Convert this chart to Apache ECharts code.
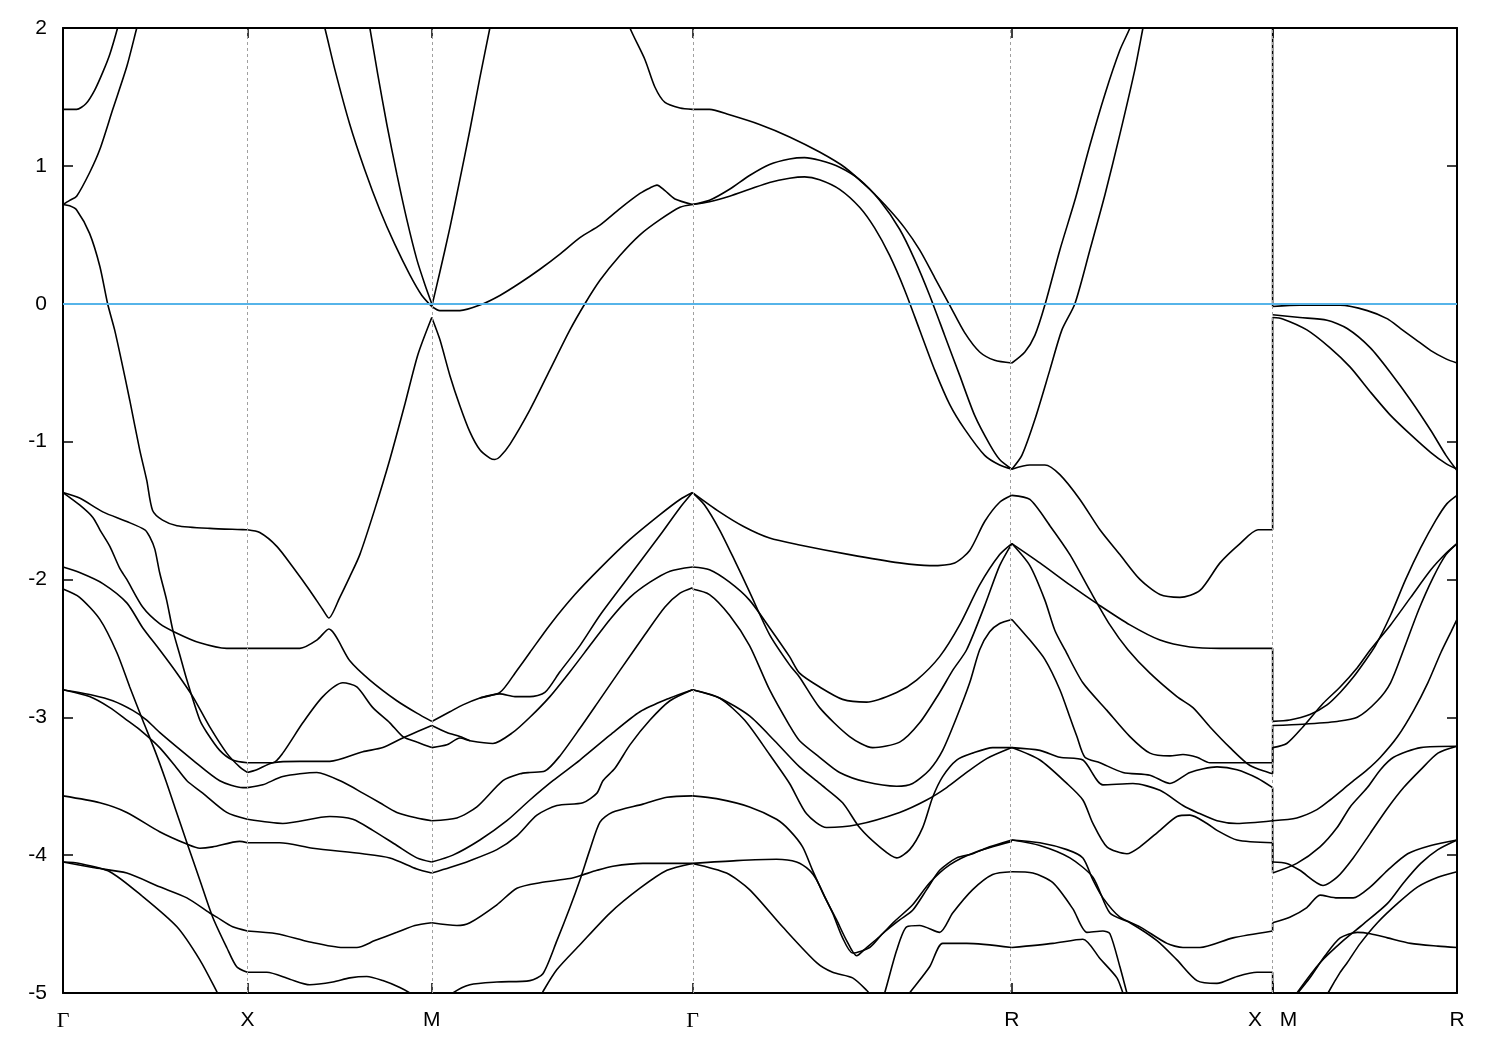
<!DOCTYPE html>
<html><head><meta charset="utf-8">
<script src="https://cdn.jsdelivr.net/npm/echarts/dist/echarts.min.js"></script>
<style>html,body{margin:0;padding:0;background:#fff}#c{width:1500px;height:1050px}</style>
</head><body><div id="c"></div>
<script>
// ---- axes data ----
const kPoints = [0, 0.5, 1.0, 1.7071, 2.5731, 3.2802, 3.7802];
const kLabels = ['Γ', 'X', 'M', 'Γ', 'R', 'X   M', 'R'];
const energyMin = -5, energyMax = 2, energyStep = 1;
const fermiLevel = 0;

// ---- Γ → X ----
const gx_t1 = [[0,1.41],[0.037,1.41],[0.062,1.45],[0.086,1.55],[0.108,1.68],[0.127,1.81],[0.148,2.0],[0.157,2.1]];
const gx_t2 = [[0,0.72],[0.018,0.75],[0.037,0.78],[0.072,0.95],[0.100,1.12],[0.135,1.41],[0.173,1.72],[0.200,2.0],[0.208,2.08]];
const gx_t3 = [[0,0.72],[0.018,0.71],[0.037,0.68],[0.072,0.51],[0.100,0.27],[0.121,0.00],[0.140,-0.19],[0.159,-0.42],[0.181,-0.70],[0.208,-1.06],[0.227,-1.28],[0.243,-1.50],[0.270,-1.57],[0.309,-1.61],[0.398,-1.63],[0.5,-1.64]];
const gx_a = [[0,-1.37],[0.045,-1.41],[0.108,-1.51],[0.173,-1.58],[0.222,-1.64],[0.235,-1.69],[0.249,-1.78],[0.262,-1.95],[0.281,-2.15],[0.298,-2.37],[0.317,-2.55],[0.336,-2.73],[0.371,-3.02],[0.390,-3.11],[0.425,-3.24],[0.460,-3.31],[0.5,-3.33]];
const gx_b = [[0,-1.37],[0.045,-1.46],[0.081,-1.55],[0.100,-1.64],[0.127,-1.76],[0.154,-1.92],[0.173,-2.00],[0.216,-2.20],[0.262,-2.32],[0.309,-2.39],[0.371,-2.46],[0.444,-2.50],[0.5,-2.50]];
const gx_c = [[0,-1.91],[0.045,-1.95],[0.108,-2.03],[0.173,-2.17],[0.216,-2.35],[0.262,-2.51],[0.309,-2.68],[0.352,-2.85],[0.398,-3.07],[0.444,-3.26],[0.479,-3.36],[0.5,-3.40]];
const gx_d = [[0,-2.07],[0.045,-2.13],[0.100,-2.29],[0.146,-2.53],[0.181,-2.78],[0.216,-3.02],[0.249,-3.24],[0.279,-3.46],[0.303,-3.65],[0.336,-3.91],[0.371,-4.18],[0.406,-4.45],[0.444,-4.67],[0.471,-4.81],[0.5,-4.85]];
const gx_e = [[0,-2.80],[0.072,-2.85],[0.127,-2.93],[0.173,-3.02],[0.208,-3.09],[0.262,-3.22],[0.303,-3.35],[0.336,-3.46],[0.379,-3.55],[0.444,-3.69],[0.5,-3.74]];
const gx_f = [[0,-2.80],[0.081,-2.84],[0.135,-2.88],[0.189,-2.95],[0.227,-3.02],[0.262,-3.11],[0.352,-3.31],[0.425,-3.46],[0.488,-3.51],[0.5,-3.51]];
const gx_g = [[0,-3.57],[0.100,-3.62],[0.173,-3.69],[0.262,-3.83],[0.336,-3.92],[0.371,-3.95],[0.406,-3.94],[0.479,-3.90],[0.5,-3.91]];
const gx_h = [[0,-4.05],[0.081,-4.09],[0.173,-4.13],[0.262,-4.23],[0.336,-4.31],[0.398,-4.42],[0.417,-4.45],[0.460,-4.52],[0.5,-4.55]];
const gx_i = [[0,-4.05],[0.045,-4.06],[0.127,-4.12],[0.216,-4.30],[0.309,-4.52],[0.371,-4.76],[0.417,-4.99],[0.428,-5.05]];

// ---- X → M ----
const xm_t3 = [[0.5,-1.64],[0.5336,-1.66],[0.5798,-1.76],[0.6232,-1.91],[0.6693,-2.08],[0.7046,-2.22],[0.7208,-2.28],[0.7507,-2.13],[0.7778,-1.98],[0.8049,-1.82],[0.8456,-1.49],[0.8863,-1.13],[0.9270,-0.73],[0.9623,-0.37],[1.0,-0.10]];
const xm_t4 = [[0.7018,2.07],[0.7100,2.0],[0.7371,1.70],[0.7778,1.30],[0.8185,0.97],[0.8592,0.68],[0.8999,0.43],[0.9406,0.21],[0.9732,0.06],[1.0,-0.02]];
const xm_t5 = [[0.8267,2.07],[0.8321,2.0],[0.8538,1.66],[0.8782,1.30],[0.9053,0.94],[0.9324,0.61],[0.9596,0.32],[0.9813,0.14],[1.0,0.0]];
const xm_a = [[0.5,-3.33],[0.5689,-3.33],[0.5960,-3.26],[0.6503,-3.04],[0.7046,-2.85],[0.7588,-2.75],[0.7968,-2.78],[0.8402,-2.93],[0.8863,-3.04],[0.9216,-3.14],[0.9596,-3.18],[1.0,-3.22]];
const xm_b = [[0.5,-2.50],[0.6422,-2.50],[0.6883,-2.44],[0.7208,-2.36],[0.7778,-2.59],[0.8321,-2.73],[0.9053,-2.88],[0.9596,-2.97],[1.0,-3.03]];
const xm_c = [[0.5,-3.40],[0.5255,-3.38],[0.5689,-3.33],[0.6422,-3.32],[0.7236,-3.32],[0.8131,-3.25],[0.8673,-3.22],[0.9216,-3.15],[1.0,-3.06]];
const xm_f = [[0.5,-3.51],[0.5418,-3.49],[0.5960,-3.43],[0.6883,-3.40],[0.7588,-3.47],[0.8131,-3.55],[0.8592,-3.62],[0.9053,-3.69],[0.9596,-3.73],[1.0,-3.75]];
const xm_e = [[0.5,-3.74],[0.5960,-3.77],[0.7236,-3.72],[0.7860,-3.74],[0.8402,-3.82],[0.9053,-3.93],[0.9596,-4.02],[1.0,-4.05]];
const xm_g = [[0.5,-3.91],[0.5879,-3.91],[0.6774,-3.95],[0.8131,-3.99],[0.8863,-4.02],[0.9596,-4.10],[1.0,-4.13]];
const xm_h = [[0.5,-4.55],[0.5798,-4.57],[0.6693,-4.63],[0.7588,-4.67],[0.7968,-4.67],[0.8456,-4.62],[0.9053,-4.56],[0.9541,-4.51],[1.0,-4.49]];
const xm_d = [[0.5,-4.85],[0.5526,-4.85],[0.6150,-4.90],[0.6693,-4.94],[0.7317,-4.92],[0.7778,-4.89],[0.8239,-4.88],[0.8673,-4.91],[0.9135,-4.96],[0.9406,-5.00],[0.9541,-5.03]];

// ---- M → Γ ----
const mg_t6 = [[1.0,-0.02],[1.0220,0.23],[1.0491,0.55],[1.0762,0.90],[1.1034,1.26],[1.1305,1.64],[1.1576,2.0],[1.1630,2.07]];
const mg_top = [[1.5320,2.07],[1.5374,2.0],[1.5782,1.77],[1.6053,1.57],[1.6324,1.46],[1.6731,1.42],[1.7071,1.41]];
const mg_t4 = [[1.0,-0.02],[1.0220,-0.05],[1.0762,-0.05],[1.1305,-0.01],[1.1848,0.06],[1.2390,0.15],[1.2933,0.25],[1.3476,0.36],[1.4018,0.48],[1.4561,0.57],[1.5103,0.69],[1.5646,0.80],[1.5917,0.84],[1.6107,0.86],[1.6324,0.82],[1.6595,0.76],[1.7071,0.72]];
const mg_t3 = [[1.0,-0.10],[1.0220,-0.26],[1.0491,-0.52],[1.0762,-0.74],[1.1034,-0.93],[1.1305,-1.06],[1.1576,-1.12],[1.1712,-1.13],[1.1848,-1.11],[1.2119,-1.02],[1.2661,-0.77],[1.3204,-0.48],[1.3747,-0.19],[1.4153,0.00],[1.4561,0.17],[1.5103,0.35],[1.5646,0.50],[1.6189,0.61],[1.6731,0.70],[1.7071,0.72]];
const mg_a = [[1.0,-3.03],[1.0491,-2.96],[1.0844,-2.91],[1.1305,-2.86],[1.1848,-2.82],[1.2309,-2.66],[1.2661,-2.53],[1.3204,-2.33],[1.3882,-2.11],[1.4561,-1.92],[1.5374,-1.71],[1.6189,-1.53],[1.6731,-1.42],[1.7071,-1.37]];
const mg_b = [[1.1305,-2.86],[1.1848,-2.83],[1.2255,-2.85],[1.2661,-2.85],[1.3068,-2.82],[1.3476,-2.67],[1.4018,-2.48],[1.4561,-2.26],[1.5374,-1.97],[1.6189,-1.68],[1.6731,-1.48],[1.7071,-1.37]];
const mg_c = [[1.0,-3.06],[1.0410,-3.11],[1.0762,-3.14],[1.1034,-3.17]];
const mg_323 = [[1.0,-3.22],[1.0410,-3.20],[1.0762,-3.15],[1.1034,-3.17],[1.1658,-3.19],[1.2200,-3.11],[1.2661,-3.00],[1.3204,-2.85],[1.3747,-2.67],[1.4289,-2.48],[1.4832,-2.29],[1.5374,-2.13],[1.5917,-2.02],[1.6460,-1.94],[1.7071,-1.91]];
const mg_375 = [[1.0,-3.75],[1.0681,-3.73],[1.1224,-3.65],[1.1929,-3.46],[1.2390,-3.41],[1.2661,-3.40],[1.3068,-3.39],[1.3476,-3.28],[1.4018,-3.08],[1.4561,-2.87],[1.5103,-2.66],[1.5782,-2.40],[1.6324,-2.20],[1.6731,-2.10],[1.7071,-2.06]];
const mg_405 = [[1.0,-4.05],[1.0573,-4.00],[1.1305,-3.89],[1.2037,-3.75],[1.2661,-3.60],[1.3285,-3.46],[1.4018,-3.31],[1.4832,-3.13],[1.5646,-2.96],[1.6460,-2.86],[1.7071,-2.80]];
const mg_413 = [[1.0,-4.13],[1.0491,-4.09],[1.1034,-4.04],[1.1766,-3.96],[1.2309,-3.86],[1.2851,-3.71],[1.3394,-3.64],[1.4099,-3.62],[1.4479,-3.55],[1.4642,-3.46],[1.4967,-3.37],[1.5374,-3.20],[1.5917,-3.02],[1.6460,-2.88],[1.7071,-2.80]];
const mg_449 = [[1.0,-4.49],[1.0681,-4.51],[1.1034,-4.49],[1.1766,-4.36],[1.2309,-4.24],[1.2933,-4.20],[1.3747,-4.17],[1.4018,-4.15],[1.4479,-4.11],[1.4913,-4.08],[1.5727,-4.06],[1.7071,-4.06]];
const mg_bot1 = [[1.0220,-5.09],[1.0573,-5.00],[1.1034,-4.94],[1.1766,-4.92],[1.2661,-4.91],[1.3014,-4.86],[1.3394,-4.62],[1.3747,-4.38],[1.4018,-4.18],[1.4289,-3.96],[1.4561,-3.76],[1.4886,-3.69],[1.5727,-3.63],[1.6378,-3.58],[1.7071,-3.57]];
const mg_bot2 = [[1.2906,-5.05],[1.3014,-4.99],[1.3394,-4.83],[1.4018,-4.65],[1.4832,-4.42],[1.5646,-4.24],[1.6378,-4.11],[1.7071,-4.06]];

// ---- Γ → R ----
const gr_t7 = [[1.7071,1.41],[1.7532,1.41],[1.8075,1.37],[1.8889,1.30],[1.9703,1.21],[2.0517,1.10],[2.1195,0.99],[2.1874,0.83],[2.2416,0.68],[2.2823,0.55],[2.3230,0.39],[2.3637,0.19],[2.4044,-0.01],[2.4451,-0.21],[2.4858,-0.35],[2.5265,-0.41],[2.5731,-0.43]];
const gr_t8 = [[1.7071,0.72],[1.7532,0.75],[1.8075,0.83],[1.8617,0.93],[1.9160,1.01],[1.9703,1.05],[2.0110,1.06],[2.0517,1.04],[2.1060,0.99],[2.1602,0.90],[2.2145,0.75],[2.2688,0.54],[2.3095,0.32],[2.3502,0.06],[2.3909,-0.23],[2.4316,-0.52],[2.4722,-0.81],[2.5129,-1.02],[2.5400,-1.13],[2.5731,-1.20]];
const gr_t9 = [[1.7071,0.72],[1.7532,0.74],[1.8075,0.78],[1.8617,0.83],[1.9160,0.88],[1.9703,0.91],[2.0110,0.92],[2.0517,0.90],[2.1060,0.83],[2.1602,0.70],[2.2009,0.55],[2.2416,0.35],[2.2823,0.10],[2.3230,-0.19],[2.3637,-0.48],[2.4044,-0.73],[2.4451,-0.91],[2.4994,-1.10],[2.5400,-1.17],[2.5731,-1.20]];
const gr_flat = [[1.7071,-1.37],[1.7803,-1.51],[1.8482,-1.62],[1.9160,-1.70],[1.9974,-1.75],[2.1331,-1.82],[2.2688,-1.88],[2.3502,-1.90],[2.4180,-1.88],[2.4587,-1.79],[2.4994,-1.58],[2.5400,-1.44],[2.5731,-1.39]];
const gr_288 = [[1.7071,-1.91],[1.7532,-1.93],[1.8075,-2.02],[1.8617,-2.15],[1.9160,-2.35],[1.9703,-2.56],[1.9974,-2.68],[2.0517,-2.78],[2.1141,-2.87],[2.1792,-2.89],[2.2607,-2.82],[2.3148,-2.73],[2.3773,-2.56],[2.4316,-2.33],[2.4858,-2.04],[2.5400,-1.82],[2.5731,-1.74]];
const gr_323 = [[1.7071,-1.37],[1.7397,-1.46],[1.7803,-1.64],[1.8210,-1.86],[1.8617,-2.09],[1.9160,-2.40],[1.9703,-2.62],[1.9974,-2.71],[2.0517,-2.93],[2.1331,-3.14],[2.1955,-3.22],[2.2688,-3.18],[2.3230,-3.04],[2.3773,-2.82],[2.4126,-2.66],[2.4505,-2.51],[2.4994,-2.19],[2.5400,-1.90],[2.5731,-1.74]];
const gr_350 = [[1.7071,-2.07],[1.7532,-2.11],[1.8075,-2.26],[1.8617,-2.48],[1.9160,-2.80],[1.9703,-3.06],[1.9974,-3.17],[2.0517,-3.29],[2.1060,-3.40],[2.1792,-3.47],[2.2607,-3.50],[2.3040,-3.48],[2.3502,-3.38],[2.3854,-3.24],[2.4234,-3.00],[2.4587,-2.75],[2.4858,-2.51],[2.5129,-2.38],[2.5400,-2.32],[2.5731,-2.29]];
const gr_402 = [[1.7071,-2.80],[1.7803,-2.86],[1.8617,-2.99],[1.9296,-3.17],[1.9974,-3.36],[2.0517,-3.48],[2.1141,-3.62],[2.1602,-3.80],[2.2145,-3.94],[2.2607,-4.02],[2.2959,-3.96],[2.3312,-3.80],[2.3583,-3.58],[2.3854,-3.43],[2.4234,-3.31],[2.4668,-3.26],[2.5210,-3.22],[2.5731,-3.22]];
const gr_378 = [[1.7071,-2.80],[1.7803,-2.86],[1.8482,-3.02],[1.9160,-3.27],[1.9703,-3.48],[2.0164,-3.70],[2.0707,-3.80],[2.1521,-3.78],[2.2688,-3.69],[2.3420,-3.60],[2.3963,-3.51],[2.4505,-3.40],[2.5048,-3.30],[2.5731,-3.22]];
const gr_dip = [[1.7071,-3.57],[1.7722,-3.59],[1.8617,-3.65],[1.9350,-3.74],[1.9703,-3.82],[2.0056,-3.94],[2.0327,-4.11],[2.0598,-4.27],[2.0870,-4.42],[2.1141,-4.60],[2.1412,-4.71],[2.1874,-4.67],[2.2226,-4.57],[2.2688,-4.47],[2.3040,-4.40],[2.3420,-4.25],[2.3773,-4.11],[2.4234,-4.02],[2.4668,-3.99],[2.5129,-3.94],[2.5731,-3.89]];
const gr_405a = [[1.7071,-4.06],[1.8265,-4.04],[1.9350,-4.03],[1.9893,-4.05],[2.0246,-4.11],[2.0436,-4.18],[2.0707,-4.33],[2.0978,-4.47],[2.1250,-4.62],[2.1521,-4.73],[2.1792,-4.67],[2.2145,-4.59],[2.2552,-4.48],[2.3040,-4.36],[2.3502,-4.20],[2.4044,-4.07],[2.4722,-3.98],[2.5731,-3.90]];
const gr_405b = [[1.7071,-4.06],[1.7993,-4.13],[1.8617,-4.25],[1.9513,-4.52],[2.0436,-4.78],[2.0870,-4.85],[2.1412,-4.89],[2.1792,-4.98],[2.2009,-5.05]];
const gr_412 = [[2.2199,-5.05],[2.2281,-5.00],[2.2607,-4.69],[2.2878,-4.52],[2.3230,-4.51],[2.3773,-4.56],[2.4126,-4.42],[2.4668,-4.25],[2.5210,-4.14],[2.5731,-4.12]];
const gr_468 = [[2.2823,-5.05],[2.2959,-5.00],[2.3502,-4.81],[2.3854,-4.64],[2.4505,-4.64],[2.5731,-4.67]];

// ---- R → X ----
const rx_U = [[2.5731,-0.43],[2.6084,-0.35],[2.6355,-0.23],[2.6626,-0.01],[2.7033,0.39],[2.7440,0.75],[2.7847,1.15],[2.8255,1.52],[2.8661,1.84],[2.8933,2.0],[2.9014,2.07]];
const rx_V = [[2.5731,-1.20],[2.6002,-1.10],[2.6355,-0.84],[2.6762,-0.48],[2.7088,-0.19],[2.7440,0.0],[2.7847,0.39],[2.8255,0.79],[2.8661,1.23],[2.9068,1.70],[2.9286,2.0],[2.9340,2.07]];
const rx_121 = [[2.5731,-1.20],[2.6219,-1.17],[2.6626,-1.17],[2.7033,-1.24],[2.7576,-1.42],[2.8119,-1.64],[2.8661,-1.82],[2.9204,-2.00],[2.9747,-2.11],[3.0289,-2.13],[3.0832,-2.08],[3.1375,-1.88],[3.1918,-1.74],[3.2406,-1.64],[3.2802,-1.64]];
const rx_140 = [[2.5731,-1.39],[2.6219,-1.42],[2.6762,-1.61],[2.7305,-1.82],[2.7847,-2.08],[2.8390,-2.33],[2.8878,-2.51],[2.9475,-2.68],[3.0208,-2.85],[3.0642,-2.93],[3.1104,-3.07],[3.1646,-3.22],[3.2189,-3.35],[3.2802,-3.41]];
const rx_174a = [[2.5731,-1.74],[2.6491,-1.88],[2.7305,-2.04],[2.8119,-2.19],[2.8933,-2.33],[2.9747,-2.44],[3.0561,-2.49],[3.1375,-2.50],[3.2802,-2.50]];
const rx_174b = [[2.5731,-1.74],[2.6219,-1.90],[2.6626,-2.15],[2.6898,-2.37],[2.7169,-2.51],[2.7657,-2.75],[2.8309,-2.95],[2.8933,-3.14],[2.9475,-3.26],[3.0018,-3.28],[3.0371,-3.27],[3.0751,-3.29],[3.1104,-3.33],[3.1836,-3.33],[3.2802,-3.33]];
const rx_229 = [[2.5731,-2.29],[2.6219,-2.44],[2.6626,-2.58],[2.7033,-2.80],[2.7305,-3.00],[2.7495,-3.14],[2.7712,-3.29],[2.8119,-3.33],[2.8743,-3.40],[2.9475,-3.42],[3.0018,-3.48],[3.0561,-3.40],[3.1294,-3.36],[3.1836,-3.38],[3.2379,-3.44],[3.2802,-3.51]];
const rx_321a = [[2.5731,-3.22],[2.6491,-3.24],[2.7033,-3.29],[2.7657,-3.31],[2.8200,-3.49],[2.9014,-3.48],[2.9747,-3.53],[3.0371,-3.64],[3.0751,-3.69],[3.1294,-3.75],[3.1836,-3.77],[3.2802,-3.75]];
const rx_321b = [[2.5731,-3.22],[2.6491,-3.31],[2.7223,-3.48],[2.7657,-3.60],[2.7929,-3.77],[2.8309,-3.94],[2.8851,-3.99],[2.9204,-3.94],[2.9747,-3.82],[3.0208,-3.72],[3.0561,-3.71],[3.1022,-3.77],[3.1294,-3.82],[3.1836,-3.89],[3.2802,-3.91]];
const rx_389a = [[2.5731,-3.89],[2.6491,-3.91],[2.7223,-3.96],[2.7657,-4.02],[2.7929,-4.18],[2.8200,-4.31],[2.8661,-4.45],[2.9204,-4.52],[2.9937,-4.64],[3.0371,-4.67],[3.0832,-4.67],[3.1728,-4.60],[3.2802,-4.55]];
const rx_389b = [[2.5731,-3.89],[2.6491,-3.93],[2.7305,-4.02],[2.7929,-4.16],[2.8390,-4.42],[2.8933,-4.49],[2.9665,-4.62],[3.0208,-4.76],[3.0751,-4.91],[3.1294,-4.93],[3.1836,-4.88],[3.2379,-4.85],[3.2802,-4.85]];
const rx_412 = [[2.5731,-4.12],[2.6301,-4.13],[2.6843,-4.20],[2.7386,-4.39],[2.7766,-4.56],[2.8200,-4.55],[2.8390,-4.57],[2.8661,-4.81],[2.8851,-5.00],[2.8906,-5.05]];
const rx_468 = [[2.5731,-4.67],[2.6843,-4.64],[2.7657,-4.61],[2.8119,-4.75],[2.8580,-4.89],[2.8743,-5.00],[2.8824,-5.05]];

// ---- band jumps at the X|M break (energy at X, energy at M) ----
const xmJumps = [[-1.64,-0.10],[2.2,-0.02],[-2.50,-3.03],[-3.33,-3.06],[-3.41,-3.22],[-3.51,-3.75],[-3.75,-4.05],[-3.91,-4.13],[-4.55,-4.49],[-4.85,-5.2]];

// ---- M → R ----
const mr_a = [[3.2802,-0.02],[3.3540,-0.01],[3.4087,-0.01],[3.4633,-0.01],[3.5371,-0.05],[3.5918,-0.11],[3.6273,-0.18],[3.6683,-0.26],[3.7093,-0.34],[3.7503,-0.40],[3.7802,-0.43]];
const mr_b = [[3.2802,-0.08],[3.3540,-0.10],[3.4278,-0.12],[3.4824,-0.18],[3.5453,-0.32],[3.6000,-0.50],[3.6546,-0.70],[3.7093,-0.92],[3.7503,-1.10],[3.7802,-1.21]];
const mr_c = [[3.2802,-0.10],[3.3075,-0.11],[3.3731,-0.19],[3.4360,-0.32],[3.4906,-0.46],[3.5453,-0.64],[3.6000,-0.81],[3.6546,-0.95],[3.7093,-1.08],[3.7503,-1.16],[3.7802,-1.20]];
const mr_303 = [[3.2802,-3.03],[3.3267,-3.02],[3.3813,-2.98],[3.4278,-2.91],[3.4633,-2.82],[3.4988,-2.71],[3.5262,-2.61],[3.5590,-2.48],[3.6000,-2.26],[3.6410,-2.00],[3.6819,-1.77],[3.7229,-1.57],[3.7530,-1.45],[3.7802,-1.39]];
const mr_323 = [[3.2802,-3.22],[3.3185,-3.19],[3.3622,-3.07],[3.4168,-2.90],[3.4633,-2.78],[3.5098,-2.64],[3.5453,-2.51],[3.6000,-2.33],[3.6546,-2.13],[3.7093,-1.93],[3.7503,-1.81],[3.7802,-1.74]];
const mr_306 = [[3.2802,-3.06],[3.3622,-3.05],[3.4551,-3.03],[3.5098,-3.00],[3.5644,-2.88],[3.6000,-2.75],[3.6355,-2.51],[3.6764,-2.22],[3.7147,-1.99],[3.7503,-1.82],[3.7802,-1.74]];
const mr_375 = [[3.2802,-3.75],[3.3458,-3.73],[3.4004,-3.67],[3.4360,-3.60],[3.4906,-3.48],[3.5371,-3.38],[3.5726,-3.29],[3.6191,-3.14],[3.6628,-2.95],[3.7011,-2.75],[3.7366,-2.53],[3.7639,-2.38],[3.7802,-2.29]];
const mr_405 = [[3.2802,-4.05],[3.3185,-4.06],[3.3540,-4.11],[3.4168,-4.22],[3.4551,-4.16],[3.4988,-4.02],[3.5453,-3.84],[3.5918,-3.66],[3.6355,-3.51],[3.6819,-3.38],[3.7284,-3.26],[3.7802,-3.21]];
const mr_413 = [[3.2802,-4.13],[3.3458,-4.06],[3.4087,-3.94],[3.4551,-3.80],[3.4906,-3.65],[3.5371,-3.51],[3.5726,-3.38],[3.6082,-3.29],[3.6819,-3.22],[3.7802,-3.21]];
const mr_449 = [[3.2802,-4.49],[3.3267,-4.45],[3.3731,-4.38],[3.4087,-4.29],[3.4551,-4.31],[3.4988,-4.31],[3.5453,-4.23],[3.5918,-4.11],[3.6464,-3.99],[3.7093,-3.93],[3.7802,-3.89]];
const mr_bot1 = [[3.3349,-5.05],[3.3458,-5.00],[3.4087,-4.78],[3.4715,-4.62],[3.5262,-4.50],[3.5918,-4.35],[3.6355,-4.20],[3.6819,-4.06],[3.7284,-3.96],[3.7802,-3.89]];
const mr_bot2 = [[3.3376,-5.05],[3.3486,-5.00],[3.3813,-4.89],[3.4223,-4.73],[3.4633,-4.60],[3.5098,-4.56],[3.5453,-4.57],[3.5918,-4.60],[3.6546,-4.64],[3.7284,-4.66],[3.7802,-4.67]];
const mr_bot3 = [[3.4223,-5.05],[3.4305,-5.00],[3.4633,-4.85],[3.4824,-4.78],[3.5180,-4.64],[3.5644,-4.49],[3.6191,-4.35],[3.6737,-4.23],[3.7284,-4.16],[3.7802,-4.12]];

const bandCurves = [
  gx_t1, gx_t2, gx_t3, gx_a, gx_b, gx_c, gx_d, gx_e, gx_f, gx_g, gx_h, gx_i,
  xm_t3, xm_t4, xm_t5, xm_a, xm_b, xm_c, xm_f, xm_e, xm_g, xm_h, xm_d,
  mg_t6, mg_top, mg_t4, mg_t3, mg_a, mg_b, mg_c, mg_323, mg_375, mg_405, mg_413, mg_449, mg_bot1, mg_bot2,
  gr_t7, gr_t8, gr_t9, gr_flat, gr_288, gr_323, gr_350, gr_402, gr_378, gr_dip, gr_405a, gr_405b, gr_412, gr_468,
  rx_U, rx_V, rx_121, rx_140, rx_174a, rx_174b, rx_229, rx_321a, rx_321b, rx_389a, rx_389b, rx_412, rx_468,
  mr_a, mr_b, mr_c, mr_303, mr_323, mr_306, mr_375, mr_405, mr_413, mr_449, mr_bot1, mr_bot2, mr_bot3
];

// ---- chart ----
const chart = echarts.init(document.getElementById('c'), null, {renderer: 'canvas'});
const bandStyle = {color: '#000', width: 1.6};
const series = [];
series.push({
  type: 'line', data: [[kPoints[0], fermiLevel]], showSymbol: false, silent: true, z: 1,
  lineStyle: {opacity: 0},
  markLine: {
    silent: true, symbol: ['none', 'none'], label: {show: false}, animation: false,
    data: kPoints.slice(1, kPoints.length - 1).map(k => ({xAxis: k, lineStyle: {color: '#a0a0a0', width: 1, type: [3, 3]}}))
  }
});
series.push({
  type: 'line', data: [[kPoints[0], fermiLevel]], showSymbol: false, silent: true, z: 2,
  lineStyle: {opacity: 0},
  markLine: {
    silent: true, symbol: ['none', 'none'], label: {show: false}, animation: false,
    data: [{yAxis: fermiLevel, lineStyle: {color: '#56b4e9', width: 2, type: 'solid'}}]
  }
});
bandCurves.forEach(d => series.push({
  type: 'line', data: d, showSymbol: false, smooth: 0.25, silent: true, z: 3,
  lineStyle: bandStyle
}));
xmJumps.forEach(([eX, eM]) => series.push({
  type: 'line', data: [[kPoints[5], eX], [kPoints[5], eM]], showSymbol: false, silent: true, z: 3,
  lineStyle: bandStyle
}));

const axisLineStyle = {show: true, onZero: false, lineStyle: {color: '#000', width: 2}};
const labelFont = 'Liberation Sans, Arial, sans-serif';
function kFormatter(v) {
  for (let i = 0; i < kPoints.length; i++) {
    if (Math.abs(kPoints[i] - v) < 1e-6) {
      return kLabels[i] === 'Γ' ? '{g|Γ}' : kLabels[i];
    }
  }
  return '';
}

chart.setOption({
  animation: false,
  backgroundColor: '#fff',
  grid: {left: 63, right: 43, top: 28, bottom: 57, containLabel: false},
  xAxis: [
    {
      type: 'value', min: kPoints[0], max: kPoints[kPoints.length - 1], position: 'bottom',
      axisLine: axisLineStyle,
      axisTick: {show: true, inside: true, length: 10, customValues: kPoints, lineStyle: {color: '#000', width: 1.5}},
      axisLabel: {
        show: true, customValues: kPoints, formatter: kFormatter, margin: 17, hideOverlap: false,
        fontSize: 21, color: '#000', fontFamily: labelFont,
        rich: {g: {fontFamily: 'Liberation Serif, DejaVu Serif, serif', fontSize: 22, color: '#000'}}
      },
      splitLine: {show: false}
    },
    {
      type: 'value', min: kPoints[0], max: kPoints[kPoints.length - 1], position: 'top',
      axisLine: axisLineStyle,
      axisTick: {show: true, inside: true, length: 10, customValues: kPoints, lineStyle: {color: '#000', width: 1.5}},
      axisLabel: {show: false}, splitLine: {show: false}
    }
  ],
  yAxis: [
    {
      type: 'value', min: energyMin, max: energyMax, interval: energyStep, position: 'left',
      axisLine: axisLineStyle,
      axisTick: {show: true, inside: true, length: 10, lineStyle: {color: '#000', width: 1.5}},
      axisLabel: {show: true, margin: 16, fontSize: 21, color: '#000', fontFamily: labelFont},
      splitLine: {show: false}
    },
    {
      type: 'value', min: energyMin, max: energyMax, interval: energyStep, position: 'right',
      axisLine: axisLineStyle,
      axisTick: {show: true, inside: true, length: 10, lineStyle: {color: '#000', width: 1.5}},
      axisLabel: {show: false}, splitLine: {show: false}
    }
  ],
  series: series
});
</script>
</body></html>
